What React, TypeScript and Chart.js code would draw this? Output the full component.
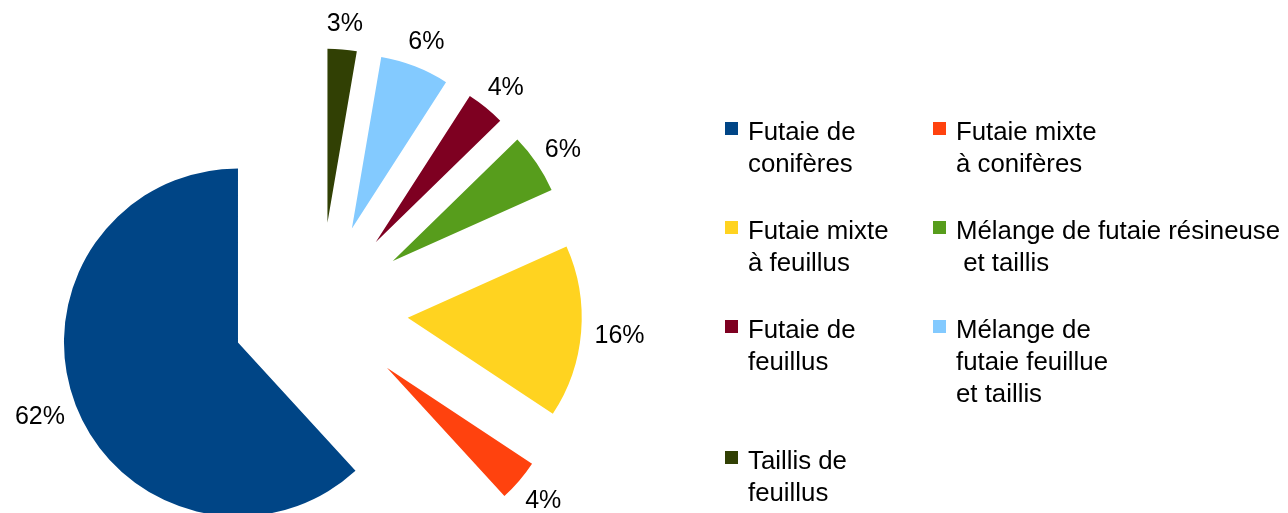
import React, { useEffect, useRef } from "react";
import { Chart, registerables } from "chart.js";

Chart.register(...registerables);

// Legend order (each category split into its displayed lines)
const CATEGORIES: string[][] = [
  ["Futaie de", "conifères"],
  ["Futaie mixte", "à conifères"],
  ["Futaie mixte", "à feuillus"],
  ["Mélange de futaie résineuse", " et taillis"],
  ["Futaie de", "feuillus"],
  ["Mélange de", "futaie feuillue", "et taillis"],
  ["Taillis de", "feuillus"],
];
// Share of each category (%)
const SHARES: number[] = [61.8, 3.9, 16.0, 5.6, 3.6, 6.4, 2.7];
const COLORS: string[] = ["#004586", "#ff420e", "#ffd320", "#579d1c", "#7e0021", "#83caff", "#314004"];

const EXPLODE = 88;
const RADIUS = 174;
const LABEL_GAP = 13.5;
const LABEL_FONT = 25;
const FONT_FAMILY = '"Liberation Sans", Arial, sans-serif';

const explodePlugin = {
  id: "explodeSlices",
  beforeDatasetDraw(chart: any, args: any) {
    const ctx = chart.ctx;
    args.meta.data.forEach((arc: any) => {
      const mid = (arc.startAngle + arc.endAngle) / 2;
      ctx.save();
      ctx.translate(Math.cos(mid) * EXPLODE, Math.sin(mid) * EXPLODE);
      arc.draw(ctx);
      ctx.restore();
    });
    return false;
  },
  afterDatasetsDraw(chart: any) {
    const ctx = chart.ctx;
    const meta = chart.getDatasetMeta(0);
    const values = chart.data.datasets[0].data as number[];
    const total = values.reduce((a, b) => a + b, 0);
    ctx.save();
    ctx.font = `${LABEL_FONT}px ${FONT_FAMILY}`;
    ctx.fillStyle = "#000";
    ctx.textAlign = "center";
    ctx.textBaseline = "alphabetic";
    meta.data.forEach((arc: any, i: number) => {
      const mid = (arc.startAngle + arc.endAngle) / 2;
      const dx = Math.cos(mid);
      const dy = Math.sin(mid);
      const text = Math.round((values[i] / total) * 100) + "%";
      const w = ctx.measureText(text).width;
      const boxH = LABEL_FONT * 1.15;
      const capH = LABEL_FONT * 0.716;
      const r = EXPLODE + arc.outerRadius + LABEL_GAP;
      const cx = arc.x + dx * r + (dx * w) / 2;
      const cy = arc.y + dy * r + (dy * boxH) / 2;
      ctx.fillText(text, cx, cy + capH / 2);
    });
    ctx.restore();
  },
};

export default function App() {
  const ref = useRef<HTMLCanvasElement>(null);

  useEffect(() => {
    // LibreOffice draws counter-clockwise; Chart.js clockwise -> reverse order
    const order = SHARES.map((_, i) => SHARES.length - 1 - i);
    const chart = new Chart(ref.current as HTMLCanvasElement, {
      type: "pie",
      data: {
        labels: order.map((i) => CATEGORIES[i].join(" ").replace(/\s+/g, " ")),
        datasets: [
          {
            data: order.map((i) => SHARES[i]),
            backgroundColor: order.map((i) => COLORS[i]),
            borderWidth: 0,
            clip: false,
            radius: RADIUS,
          } as any,
        ],
      },
      options: {
        animation: false,
        responsive: false,
        radius: RADIUS,
        layout: { padding: { left: 0, right: 648, top: 108, bottom: 0 } },
        plugins: {
          legend: { display: false },
          tooltip: { enabled: false },
        },
      } as any,
      plugins: [explodePlugin as any],
    });
    return () => chart.destroy();
  }, []);

  return (
    <div style={{ position: "absolute", left: 0, top: 0, width: 1288, height: 513, background: "#fff", overflow: "hidden" }}>
      <canvas ref={ref} width={1288} height={513} style={{ position: "absolute", left: 0, top: 0, display: "block" }} />
      <div
        style={{
          position: "absolute",
          left: 725,
          top: 115,
          display: "grid",
          gridTemplateColumns: "208px auto",
          rowGap: 35,
          fontFamily: FONT_FAMILY,
          fontSize: 25.8,
          lineHeight: "32px",
          color: "#000",
        }}
      >
        {CATEGORIES.map((lines, i) => (
          <div key={i} style={{ display: "flex", alignItems: "flex-start" }}>
            <div style={{ width: 13, height: 13, marginTop: 7, marginRight: 10, background: COLORS[i], flex: "none" }} />
            <div style={{ whiteSpace: "pre" }}>
              {lines.map((l, j) => (
                <div key={j}>{l}</div>
              ))}
            </div>
          </div>
        ))}
      </div>
    </div>
  );
}
